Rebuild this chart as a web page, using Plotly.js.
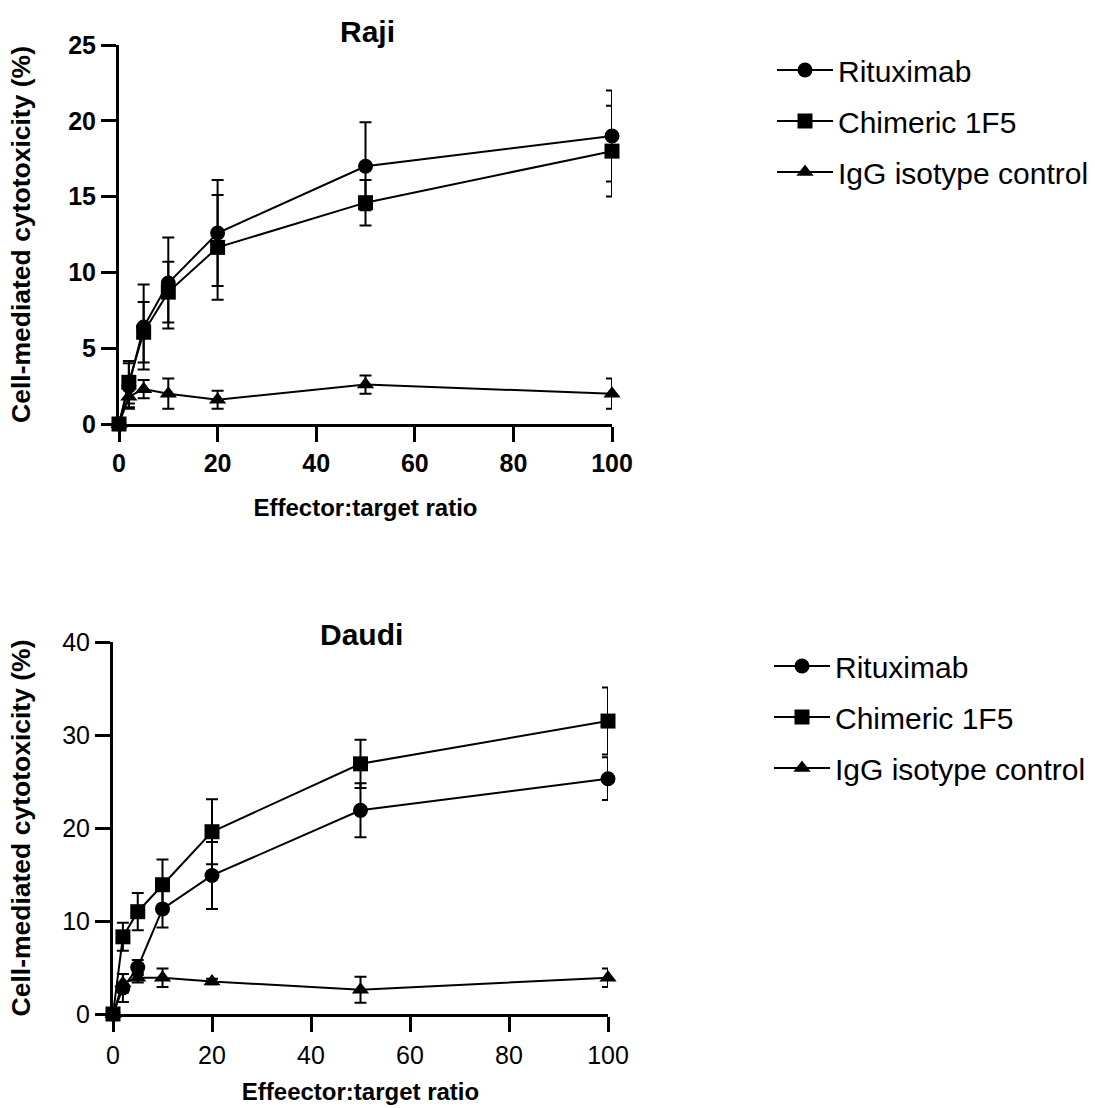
<!DOCTYPE html>
<html>
<head>
<meta charset="utf-8">
<script src="https://cdn.plot.ly/plotly-3.0.1.min.js"></script>
<style>html,body{margin:0;padding:0;background:#fff;}#chart{width:1095px;height:1108px;}</style>
</head>
<body>
<div id="chart"></div>
<script>
// ---- data ----
const ratio = [0, 2, 5, 10, 20, 50, 100];
const seriesNames = ["Rituximab", "Chimeric 1F5", "IgG isotype control"];

const rajiRituximab = [0, 2.5, 6.4, 9.3, 12.6, 17.0, 19.0];
const rajiRituximabErr = [0, 1.5, 2.8, 3.0, 3.5, 2.9, 3.0];
const rajiChimeric = [0, 2.75, 6.05, 8.7, 11.65, 14.6, 18.0];
const rajiChimericErr = [0, 1.4, 2.0, 2.0, 3.45, 1.5, 3.0];
const rajiIgG = [0, 1.8, 2.3, 2.0, 1.6, 2.6, 2.0];
const rajiIgGErr = [0, 0.7, 0.6, 1.0, 0.6, 0.6, 1.0];

const daudiRituximab = [0, 2.8, 5.0, 11.3, 14.9, 21.9, 25.3];
const daudiRituximabErr = [0, 1.5, 0.8, 2.0, 3.6, 2.9, 2.3];
const daudiChimeric = [0, 8.3, 11.0, 13.9, 19.6, 26.9, 31.5];
const daudiChimericErr = [0, 1.5, 2.0, 2.7, 3.5, 2.6, 3.6];
const daudiIgG = [0, 3.3, 3.9, 3.9, 3.5, 2.6, 3.9];
const daudiIgGErr = [0, 1.0, 0.5, 1.0, 0.3, 1.4, 1.0];

const symbols = ["circle", "square", "triangle-up"];
const FONT = "Liberation Sans, Arial, Helvetica, sans-serif";

function mk(name, sym, y, err, xa, ya, leg, idx) {
  return {
    type: "scatter", mode: "lines+markers", name: name,
    x: ratio, y: y, xaxis: xa, yaxis: ya, legend: leg,
    legendgroup: leg + idx,
    cliponaxis: false,
    line: {color: "#000", width: 2},
    marker: {symbol: sym, size: 15, color: "#000"},
    error_y: {type: "data", array: err, visible: true, color: "#000", thickness: 2, width: 6}
  };
}

const traces = [
  mk(seriesNames[0], symbols[0], rajiRituximab, rajiRituximabErr, "x", "y", "legend", 0),
  mk(seriesNames[1], symbols[1], rajiChimeric, rajiChimericErr, "x", "y", "legend", 1),
  mk(seriesNames[2], symbols[2], rajiIgG, rajiIgGErr, "x", "y", "legend", 2),
  mk(seriesNames[0], symbols[0], daudiRituximab, daudiRituximabErr, "x2", "y2", "legend2", 0),
  mk(seriesNames[1], symbols[1], daudiChimeric, daudiChimericErr, "x2", "y2", "legend2", 1),
  mk(seriesNames[2], symbols[2], daudiIgG, daudiIgGErr, "x2", "y2", "legend2", 2)
];

const W = 1095, H = 1108;
function axisBase(weightBold) {
  return {
    showline: true, linewidth: 3, linecolor: "#000", mirror: false,
    ticks: "outside", ticklen: 15, tickwidth: 3, tickcolor: "#000",
    showgrid: false, zeroline: false, fixedrange: true,
    tickfont: {family: FONT, size: 25, color: "#000", weight: weightBold ? "bold" : "normal"}
  };
}

const legendBase = {
  xanchor: "left", yanchor: "top",
  font: {family: FONT, size: 30, color: "#000"},
  bgcolor: "rgba(0,0,0,0)", traceorder: "grouped", tracegroupgap: 9, itemwidth: 56
};

const layout = {
  width: W, height: H, margin: {l: 0, r: 0, t: 0, b: 0, autoexpand: false},
  paper_bgcolor: "#fff", plot_bgcolor: "#fff",
  font: {family: FONT, color: "#000"},
  xaxis: Object.assign(axisBase(true), {
    domain: [119 / W, 612 / W], range: [0, 100], dtick: 20, anchor: "y",
    ticklabelstandoff: 0,
    title: {text: "Effector:target ratio", font: {size: 24, weight: "bold", family: FONT}, standoff: 24}
  }),
  yaxis: Object.assign(axisBase(true), {
    domain: [1 - 424 / H, 1 - 45 / H], range: [0, 25], dtick: 5, anchor: "x",
    title: {text: "Cell-mediated cytotoxicity (%)", font: {size: 26.5, weight: "bold", family: FONT}, standoff: 30}
  }),
  xaxis2: Object.assign(axisBase(false), {
    domain: [113 / W, 608 / W], range: [0, 100], dtick: 20, anchor: "y2",
    ticklabelstandoff: 2,
    title: {text: "Effeector:target ratio", font: {size: 24, weight: "bold", family: FONT}, standoff: 16}
  }),
  yaxis2: Object.assign(axisBase(false), {
    domain: [1 - 1014 / H, 1 - 642 / H], range: [0, 40], dtick: 10, anchor: "x2",
    title: {text: "Cell-mediated cytotoxicity (%)", font: {size: 26.5, weight: "bold", family: FONT}, standoff: 24}
  }),
  legend: Object.assign({}, legendBase, {x: 772 / W, y: 1 - 44 / H}),
  legend2: Object.assign({}, legendBase, {x: 769 / W, y: 1 - 640 / H}),
  annotations: [
    {text: "Raji", xref: "paper", yref: "paper", x: 367 / W, y: 1 - 32 / H, xanchor: "center", yanchor: "middle", showarrow: false,
     font: {family: FONT, size: 30, weight: "bold", color: "#000"}},
    {text: "Daudi", xref: "paper", yref: "paper", x: 361 / W, y: 1 - 634 / H, xanchor: "center", yanchor: "middle", showarrow: false,
     font: {family: FONT, size: 30, weight: "bold", color: "#000"}}
  ],
  showlegend: true
};

Plotly.newPlot("chart", traces, layout, {displayModeBar: false, staticPlot: true});
</script>
</body>
</html>
